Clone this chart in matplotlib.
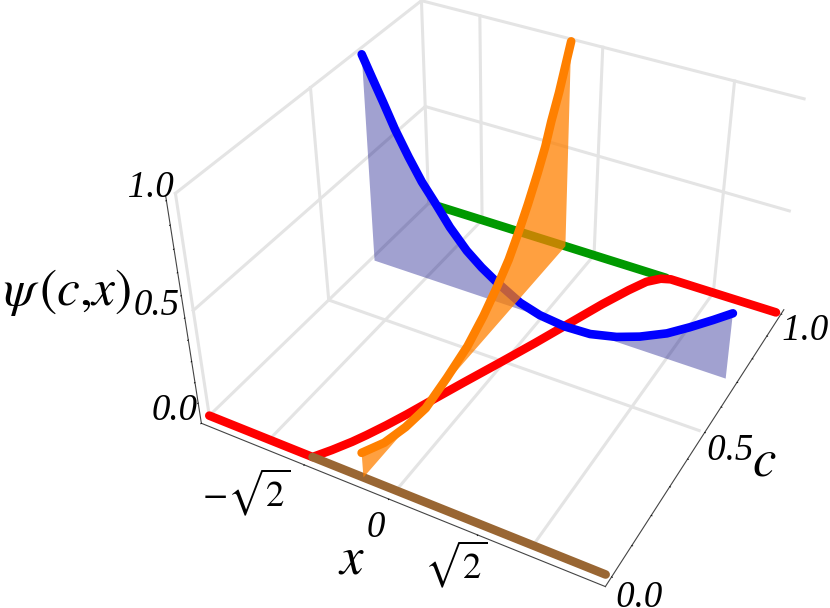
import numpy as np
import matplotlib
matplotlib.use("Agg")
import matplotlib.pyplot as plt
from mpl_toolkits.mplot3d.art3d import Poly3DCollection

plt.rcParams["font.family"] = ["Liberation Serif", "DejaVu Serif"]
plt.rcParams["mathtext.fontset"] = "stix"

X_LIM = (-3.0, 3.08)
C_LIM = (-0.03, 1.02)
Z_LIM = (0.0, 1.02)

# spaces in the labels nudge them sideways, since the labels are centred on their anchor
x_ticks = [-1.31, 0, 1.31]
x_ticklabels = [r"$-\sqrt{2}$", "0", r"$\sqrt{2}$" + "   "]
tenth_ticks = [0, 0.1, 0.2, 0.3, 0.4, 0.5, 0.6, 0.7, 0.8, 0.9, 1.0]
c_labels = [" 0.0", "", "", "", "", " 0.5", "", "", "", "", " 1.0"]
z_labels = ["0.0", "", "", "", "", "0.5", "", "", "", "", "   1.0"]
grid_x = [-2, 0, 2]

red_x = [-3, -1.3, -1.15, -1.0, -0.9, -0.77, -0.64, -0.51, -0.29, -0.03, 0.19, 0.42, 0.65, 0.85, 1.0, 1.16, 1.3, 3]
red_c = [0, 0, 0.04, 0.085, 0.12, 0.17, 0.225, 0.285, 0.385, 0.50, 0.60, 0.71, 0.82, 0.905, 0.96, 0.99, 1.0, 1]
green_x = [-2.8, 1.22]
brown_x = [-1.3, 3]
blue_c = 0.7
blue_x = [-2.93, -2.78, -2.61, -2.43, -2.22, -2.01, -1.8, -1.55, -1.27, -1.02, -0.79, -0.37, -0.04,
          0.38, 0.79, 1.21, 1.57, 1.98, 2.31, 2.64, 2.91]
blue_z = [0.99, 0.90, 0.80, 0.69, 0.58, 0.48, 0.40, 0.30, 0.21, 0.15, 0.105, 0.035, 0.005,
          -0.01, -0.005, 0.025, 0.065, 0.125, 0.19, 0.26, 0.32]
orange_x = -0.5
orange_c = [1.0, 0.97, 0.94, 0.90, 0.87, 0.83, 0.78, 0.73, 0.68, 0.62, 0.55, 0.47, 0.37, 0.27, 0.18, 0.09, 0.0]
orange_z = [0.99, 0.90, 0.81, 0.71, 0.62, 0.53, 0.43, 0.34, 0.26, 0.19, 0.12, 0.06, 0.02, -0.01, 0.01, 0.05, 0.12]

fig = plt.figure(figsize=(8.3, 6.08), dpi=100)
# camera and axes box fitted to the box corners of the picture
l, w, top, bot = 158.7, 675.9, -70.5, 605.4
ax = fig.add_axes([l/830, (608-bot)/608, w/830, (bot-top)/608], projection="3d")
ax.set_xlim(*X_LIM); ax.set_ylim(*C_LIM); ax.set_zlim(*Z_LIM)
ax.computed_zorder = False
ax.view_init(36.427, -61.454)
ax.set_proj_type("persp", focal_length=0.425)
ax.set_box_aspect((1.627, 1.643, 1))

ax.xaxis.pane.set_visible(False); ax.yaxis.pane.set_visible(False); ax.zaxis.pane.set_visible(False)
ax.grid(False)
ax.set_xticks(x_ticks, x_ticklabels)
ax.set_yticks(tenth_ticks, c_labels)
ax.set_zticks(tenth_ticks, z_labels)
ax.zaxis.set_ticks_position("lower")
for axis, pad, va in ((ax.xaxis, 6, "center"), (ax.yaxis, 5.5, "center"), (ax.zaxis, 2.5, "bottom")):
    axis.line.set_color("#444444"); axis.line.set_linewidth(0.8)
    axis._axinfo["tick"].update(inward_factor=0.025, outward_factor=0.0,
                                linewidth={True: 0.6, False: 0.6}, color="#222222")
    axis.set_tick_params(labelsize=26.5, pad=pad)
    for tick in axis.get_major_ticks():
        tick.label1.set_fontstyle("italic")
        tick.label1.set_ha("center"); tick.label1.set_va(va)
ax.xaxis.get_major_ticks()[0].label1.set_ha("right")

# light frame and grid: floor and the two back walls
GRID = dict(color="#E4E4E4", lw=2.2, zorder=1)
for xg in grid_x:
    ax.plot([xg, xg], [0, 1], [0, 0], **GRID)
    ax.plot([xg, xg], [1, 1], [0, 1], **GRID)
for a, b, c_, d, e, f in [(-3, 3, .5, .5, 0, 0), (-3, 3, 1, 1, 0, 0), (-3, -3, 0, 1, 0, 0), (-3, -3, .5, .5, 0, 1),
                          (-3, -3, 0, 1, .5, .5), (-3, 3, 1, 1, .5, .5), (-3, -3, 0, 0, 0, 1), (-3, -3, 1, 1, 0, 1),
                          (-3, -3, 0, 1, 1, 1), (-3, 3, 1, 1, 1, 1)]:
    ax.plot([a, b], [c_, d], [e, f], **GRID)

n = len(blue_x)
blue_poly = list(zip(blue_x, [blue_c]*n, blue_z)) + [(blue_x[-1], blue_c, 0), (blue_x[0], blue_c, 0)]
ax.add_collection3d(Poly3DCollection([blue_poly], facecolors=(0, 0, 0.5, 0.37), edgecolors="none", zorder=2))
LINE = dict(lw=6.2, solid_capstyle="round", solid_joinstyle="round")
ax.plot(green_x, [1, 1], [0, 0], color="#009900", zorder=3, **LINE)
ax.plot(red_x, red_c, np.zeros(len(red_x)), color="#FF0000", zorder=4, **LINE)
ax.plot(brown_x, [0, 0], [0, 0], color="#996633", zorder=5, **LINE)
ax.plot(blue_x, [blue_c]*n, blue_z, color="#0000FF", zorder=6, **LINE)
m = len(orange_c)
or_poly = list(zip([orange_x]*m, orange_c, orange_z)) + [(orange_x, 0, 0), (orange_x, 1, 0)]
ax.add_collection3d(Poly3DCollection([or_poly], facecolors=(1, 0.5, 0, 0.75), edgecolors="none", zorder=7))
ax.plot([orange_x]*m, orange_c, orange_z, color="#FF8000", zorder=8, **LINE)

fig.text(67/830, 1-293/608, r"$\psi\,(c{,}x)$", fontsize=37, ha="center", va="center")
fig.text(351/830, 1-560/608, r"$x$", fontsize=38, ha="center", va="center")
fig.text(764/830, 1-462/608, r"$c$", fontsize=38, ha="center", va="center")
fig.savefig("out.png", dpi=100)
